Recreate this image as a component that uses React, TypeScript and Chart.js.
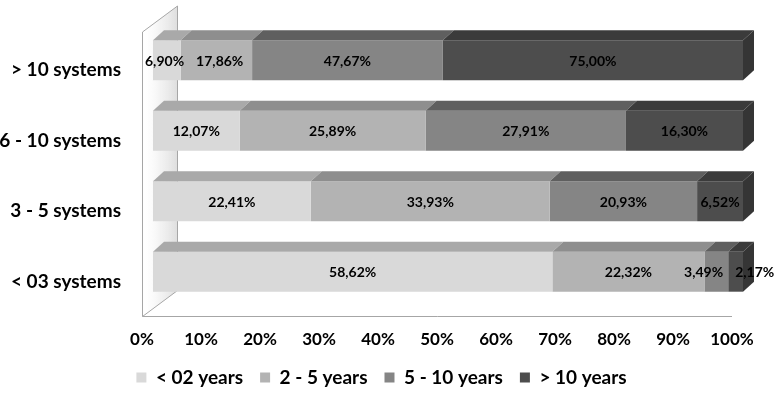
import { useEffect, useRef } from "react";
import { Chart, registerables } from "chart.js";

Chart.register(...registerables);

// ---- data ----
const categories = ["> 10 systems", "6 - 10 systems", "3 - 5 systems", "< 03 systems"];
const seriesNames = ["< 02 years", "2 - 5 years", "5 - 10 years", "> 10 years"];
const under2Years = [6.9, 12.07, 22.41, 58.62];
const from2to5Years = [17.86, 25.89, 33.93, 22.32];
const from5to10Years = [47.67, 27.91, 20.93, 3.49];
const over10Years = [75.0, 16.3, 6.52, 2.17];

// ---- styles ----
const frontColors = ["#d9d9d9", "#b3b3b3", "#858585", "#4d4d4d"];
const topColors = ["#a9a9a9", "#8e8e8e", "#5f5f5f", "#3b3b3b"];
const sideColor = "#353535";
const FONT = "Lato, 'DejaVu Sans', sans-serif";
const DX = 11;
const DY = 10;
const WALL_X = 35;
const WALL_Y = 26;

const allSeries = [under2Years, from2to5Years, from5to10Years, over10Years];
const rowSums = categories.map((_, i) => allSeries.reduce((s, arr) => s + arr[i], 0));

const fmt = (v: number) => v.toFixed(2).replace(".", ",") + "%";

const legendShiftPlugin = {
  id: "legendShift",
  afterLayout(chart: any) {
    if (chart.legend) {
      chart.legend.left = 31;
      chart.legend.top += 1;
      chart.legend.bottom += 1;
    }
  },
};

const threeDPlugin = {
  id: "threeD",
  beforeDatasetsDraw(chart: any) {
    const { ctx, chartArea: a } = chart;
    const L = Math.round(a.left) + 0.5;
    const B = Math.round(a.bottom) - 0.5;
    const T = a.top - 3;
    ctx.save();
    const g = ctx.createLinearGradient(L, 0, L + WALL_X, 0);
    g.addColorStop(0, "rgba(255,255,255,0)");
    g.addColorStop(0.5, "rgba(220,220,220,0.35)");
    g.addColorStop(1, "rgba(200,200,200,0.6)");
    ctx.fillStyle = g;
    ctx.beginPath();
    ctx.moveTo(L, T);
    ctx.lineTo(L + WALL_X, T - WALL_Y);
    ctx.lineTo(L + WALL_X, B - WALL_Y);
    ctx.lineTo(L, B);
    ctx.closePath();
    ctx.fill();
    ctx.strokeStyle = "#a6a6a6";
    ctx.lineWidth = 1;
    ctx.beginPath();
    ctx.moveTo(L, B);
    ctx.lineTo(L, T);
    ctx.lineTo(L + WALL_X, T - WALL_Y);
    ctx.lineTo(L + WALL_X, B - WALL_Y);
    ctx.moveTo(L, B);
    ctx.lineTo(L + WALL_X, B - WALL_Y);
    ctx.moveTo(L, B);
    ctx.lineTo(a.right, B);
    ctx.stroke();
    ctx.restore();
    ctx.save();
    ctx.translate(DX, -DY);
  },
  afterDatasetsDraw(chart: any) {
    const { ctx } = chart;
    ctx.restore();
    ctx.save();
    ctx.translate(DX, -DY);
    const n = chart.data.datasets.length;
    const labelInfo: { cx: number; y: number; w: number; text: string }[][] = categories.map(() => []);
    ctx.font = `bold 14px ${FONT}`;
    for (let d = 0; d < n; d++) {
      const meta = chart.getDatasetMeta(d);
      meta.data.forEach((el: any, i: number) => {
        const p = el.getProps(["x", "y", "base", "height"], true);
        const x0 = Math.min(p.x, p.base);
        const x1 = Math.max(p.x, p.base);
        const top = p.y - p.height / 2;
        const bot = p.y + p.height / 2;
        ctx.fillStyle = topColors[d];
        ctx.beginPath();
        ctx.moveTo(x0, top);
        ctx.lineTo(x0 + DX, top - DY);
        ctx.lineTo(x1 + DX, top - DY);
        ctx.lineTo(x1, top);
        ctx.closePath();
        ctx.fill();
        if (d === n - 1) {
          ctx.fillStyle = sideColor;
          ctx.beginPath();
          ctx.moveTo(x1, top);
          ctx.lineTo(x1 + DX, top - DY);
          ctx.lineTo(x1 + DX, bot - DY);
          ctx.lineTo(x1, bot);
          ctx.closePath();
          ctx.fill();
        }
        const text = fmt(allSeries[d][i]);
        labelInfo[i].push({ cx: (x0 + x1) / 2, y: p.y, w: ctx.measureText(text).width, text });
      });
    }
    ctx.fillStyle = "#000";
    ctx.textAlign = "center";
    ctx.textBaseline = "middle";
    const gap = 12;
    labelInfo.forEach((row) => {
      for (let k = 1; k < row.length; k++) {
        const prevR = row[k - 1].cx + row[k - 1].w / 2;
        const curL = row[k].cx - row[k].w / 2;
        if (curL < prevR + gap) {
          const ov = prevR + gap - curL;
          row[k - 1].cx -= ov * 0.4;
          row[k].cx += ov * 0.6;
        }
      }
      row.forEach((l) => ctx.fillText(l.text, l.cx, l.y + 1));
    });
    ctx.restore();
  },
};

export default function App() {
  const ref = useRef<HTMLCanvasElement>(null);
  useEffect(() => {
    if (!ref.current) return;
    const chart = new Chart(ref.current, {
      type: "bar",
      data: {
        labels: categories,
        datasets: allSeries.map((arr, d) => ({
          label: seriesNames[d],
          data: arr.map((v, i) => (v / rowSums[i]) * 100),
          backgroundColor: frontColors[d],
          borderWidth: 0,
          categoryPercentage: 1,
          barPercentage: 0.566,
        })),
      },
      options: {
        indexAxis: "y",
        responsive: false,
        animation: false,
        layout: { padding: { left: 0, right: 45, top: 35, bottom: 0 } },
        scales: {
          x: {
            stacked: true,
            min: 0,
            max: 100,
            grid: { display: false, drawTicks: false },
            border: { display: false },
            ticks: {
              stepSize: 10,
              padding: 12,
              color: "#000",
              font: { family: FONT, size: 17, weight: "bold" },
              callback: (v: any) => v + "%",
            },
            afterFit: (s: any) => {
              s.height = 33;
            },
          },
          y: {
            stacked: true,
            grid: { display: false, drawTicks: false },
            border: { display: false },
            ticks: {
              padding: 21,
              color: "#000",
              font: { family: FONT, size: 19, weight: "bold" },
            },
            afterFit: (s: any) => {
              s.width = 142;
            },
          },
        },
        plugins: {
          tooltip: { enabled: false },
          legend: {
            position: "bottom",
            labels: {
              boxWidth: 10,
              boxHeight: 10,
              padding: 17,
              color: "#000",
              font: { family: FONT, size: 19, weight: "bold" },
            },
          },
        },
      },
      plugins: [legendShiftPlugin, threeDPlugin],
    } as any);
    return () => chart.destroy();
  }, []);
  return (
    <div style={{ position: "absolute", left: 0, top: 0, width: 777, height: 396 }}>
      <canvas ref={ref} width={777} height={396} style={{ display: "block" }} />
    </div>
  );
}
